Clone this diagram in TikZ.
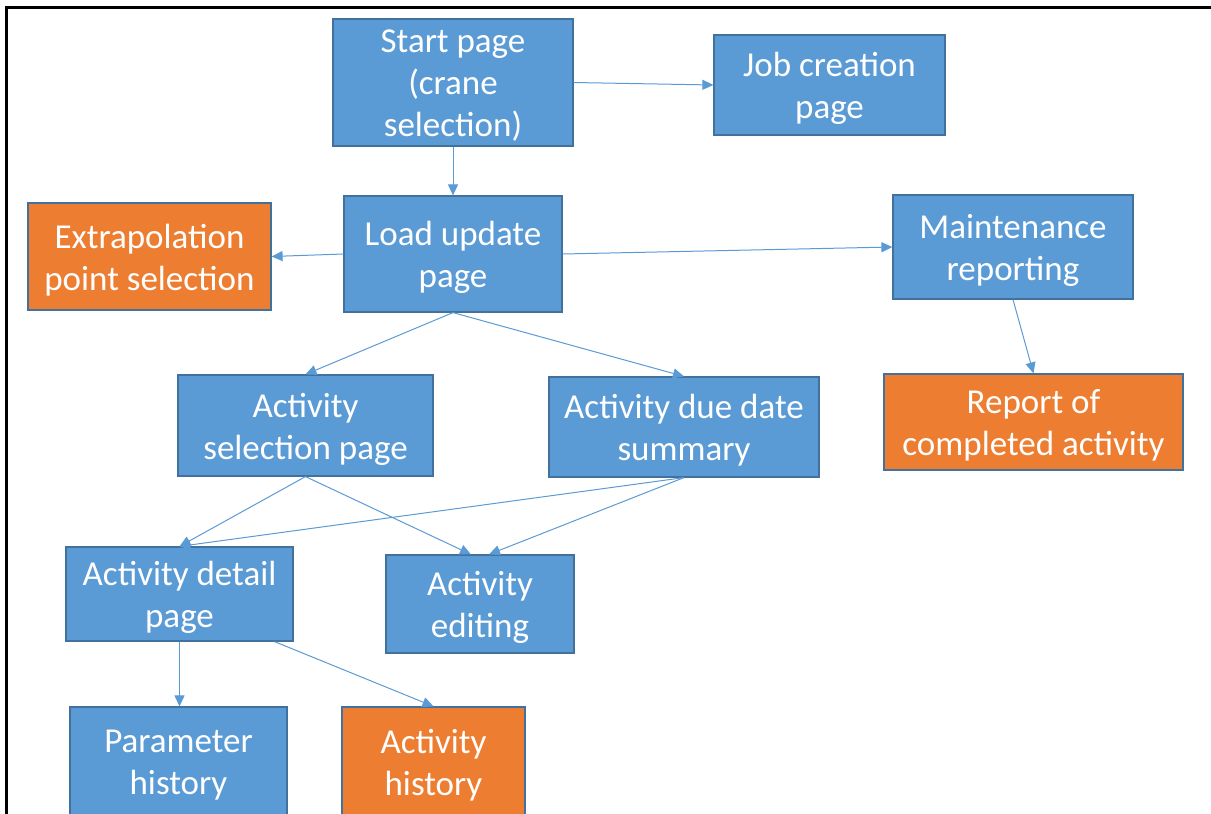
\documentclass[tikz,border=0pt]{standalone}
\usepackage{fontspec}
\setmainfont{Carlito}
\usetikzlibrary{arrows.meta}
\definecolor{boxblue}{HTML}{5B9BD5}
\definecolor{boxorange}{HTML}{ED7D31}
\definecolor{boxedge}{HTML}{41719C}
\tikzset{
  pagebox/.style={draw=boxedge, line width=1.2pt, fill=boxblue, inner sep=0pt},
  outbox/.style={pagebox, fill=boxorange},
  pagetext/.style={text=white, align=center, inner sep=0pt,
    font=\fontsize{35}{42}\selectfont},
  link/.style={draw=boxblue, line width=1pt,
    -{Triangle[length=11pt,width=10pt]}}
}
% box with its caption set slightly below the geometric centre
\newcommand\screenbox[6]{%
  \node[#1, minimum width=#4pt, minimum height=#5pt] (#2) at (#3) {};
  \node[pagetext] (#2-text) at ([yshift=-3.5pt]#2.center) {#6};
}
\begin{document}
\begin{tikzpicture}[x=1pt,y=-1pt]
\useasboundingbox (0,0) rectangle (1211,814);
\clip (0,0) rectangle (1211,814);
\fill[white] (0,0) rectangle (1211,814);
% outer frame
\draw[line width=3pt] (6,814) -- (6,7) -- (1215,7);

% pages
\screenbox{pagebox}{start}{453,82.5}{240}{127}{Start page\\(crane\\selection)}
\screenbox{pagebox}{job}{829.5,85}{231}{100}{Job creation\\page}
\screenbox{outbox}{extrap}{149.5,256.5}{243}{107}{Extrapolation\\point selection}
\screenbox{pagebox}{load}{453,254}{218}{116}{Load update\\page}
\screenbox{pagebox}{maint}{1013,247}{240}{104}{Maintenance\\reporting}
\screenbox{outbox}{report}{1033.5,422}{299}{96}{Report of\\completed activity}
\screenbox{pagebox}{actsel}{305.5,425.5}{255}{101}{Activity\\selection page}
\screenbox{pagebox}{due}{684,427}{270}{100}{Activity due date\\summary}
\screenbox{pagebox}{detail}{179.5,594}{227}{94}{Activity detail\\page}
\screenbox{pagebox}{edit}{480,604}{188}{98}{Activity\\editing}
\screenbox{pagebox}{param}{178.5,762}{217}{110}{Parameter\\history}
\screenbox{outbox}{hist}{433.5,762}{183}{110}{Activity\\history}

% navigation links
\draw[link] (start.south) -- (load.north);
\draw[link] (start.east) -- (job.west);
\draw[link] (load.west) -- (extrap.east);
\draw[link] (load.east) -- (maint.west);
\draw[link] (load.south) -- (actsel.north);
\draw[link] (load.south) -- (due.north);
\draw[link] (maint.south) -- (report.north);
\draw[link] (actsel.south) -- (detail.north);
\draw[link] (actsel.south) -- ([xshift=-9pt]edit.north);
\draw[link] (due.south) -- (detail.north);
\draw[link] (due.south) -- ([xshift=9pt]edit.north);
\draw[link] (detail.south) -- (detail.south |- param.north);
\draw[link] ([xshift=95pt]detail.south) -- (hist.north);
\end{tikzpicture}
\end{document}
